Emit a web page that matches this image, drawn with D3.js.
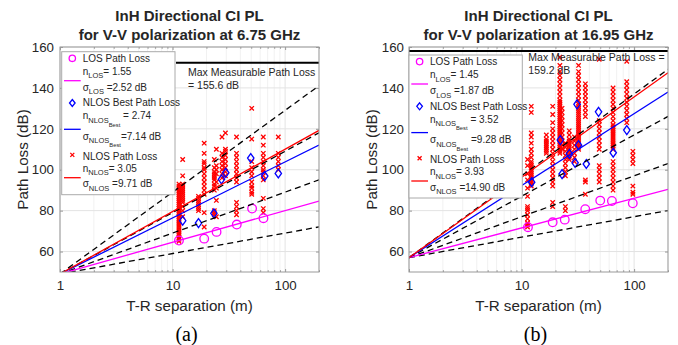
<!DOCTYPE html>
<html>
<head>
<meta charset="utf-8">
<script src="https://cdn.jsdelivr.net/npm/d3@7"></script>
<style>
  body { margin: 0; background: #fff; }
  svg { display: block; font-family: "Liberation Sans", Arial, sans-serif; }
</style>
</head>
<body>
<svg id="chart" width="678" height="345"></svg>
<script>
// axis setup shared by both panels
const xTicks = [1, 10, 100];
const yTicks = [60, 80, 100, 120, 140, 160];
const refN = [1, 2, 3, 4];          // dashed reference exponents
const xMinor = [2,3,4,5,6,7,8,9,20,30,40,50,60,70,80,90,200];

// ---- panel (a) 6.75 GHz ----
const freqA = 6.75;
const expA = [1.55, 2.74, 3.05];    // LOS, NLOS best, NLOS
const sigA = ["2.52", "7.14", "9.71"];
const maxTextA = "155.6";
const maxLineA = 152.3;             // where the line sits in the picture
const losA_d = [11.4, 19.1, 24.6, 37.2, 50.9, 64.2];
const losA_pl = [65.4, 66.3, 69.6, 73.2, 81.0, 76.3];
const bestA_d = [12.3, 17.0, 23.3, 27.2, 29.7, 49.5, 65.9, 87.0];
const bestA_pl = [75.1, 73.9, 78.7, 95.3, 98.5, 105.7, 96.9, 98.2];
const nlosA = [
  [11.4, [65, 66, 67, 68, 69, 70, 71, 72, 73, 74, 75, 76, 77, 78, 79, 80, 81, 82, 83, 84, 85, 86, 87, 88, 89, 90, 91, 92, 93]],
  [12.3, [77, 80, 82, 84, 85, 86, 87, 88, 89, 90, 91, 92, 93, 97, 105]],
  [17.0, [80, 81, 82, 83, 84, 85, 86, 87]],
  [19.1, [72, 79, 88, 90, 92, 94, 96, 98, 100, 101, 103, 104, 108, 113]],
  [23.5, [78, 79, 80, 90, 92, 93, 95, 96, 97, 98, 99, 101, 105]],
  [24.5, [77, 85, 91, 94, 98, 100, 102, 110]],
  [27.5, [96, 98, 100, 102, 104, 106, 108, 116]],
  [29.5, [97, 99, 101, 103, 105, 107, 109, 110, 118]],
  [37.0, [78, 80, 82, 84, 94, 96, 98, 100, 102, 104, 106, 108, 116]],
  [50.5, [88, 89, 91, 92, 94, 97, 99, 101, 104, 115, 130]],
  [64.0, [79, 81, 86, 95, 97, 99, 100, 102, 104, 106, 108, 112, 116]],
  [87.0, [100, 102, 104, 106, 108, 116]]
];

// ---- panel (b) 16.95 GHz ----
const freqB = 16.95;
const expB = [1.45, 3.52, 3.93];
const sigB = ["1.87", "9.28", "14.90"];
const maxTextB = "159.2";
const maxLineB = 158.0;
const losB_d = [11.4, 18.9, 24.2, 36.8, 50.0, 63.5, 97.3];
const losB_pl = [71.9, 74.3, 75.6, 80.7, 84.9, 84.7, 83.6];
const bestB_d = [12.3, 22.1, 22.9, 26.6, 29.9, 31.1, 32.1, 37.6, 48.3, 65.2, 86.1];
const bestB_pl = [93.9, 114.5, 97.9, 107.7, 103.4, 132.0, 112.0, 102.8, 128.3, 108.3, 119.4];
const nlosB = [
  [11.3, [72, 73, 74, 76, 78, 80, 81, 82, 87, 91, 95, 98, 102, 105]],
  [12.2, [92, 93, 94, 95, 96, 97, 98, 99, 100, 101, 102, 103, 104, 106, 108, 110, 113, 116, 118, 128, 131]],
  [16.6, [108, 109, 110, 111, 112, 113, 114, 115, 117]],
  [18.9, [82, 84, 92, 94, 96, 98, 100, 102, 104, 106, 108, 110, 112, 114, 116, 118, 120, 123, 127, 131]],
  [21.9, [108, 109, 110, 111, 112, 113, 114, 115, 116, 117, 118, 119, 120, 121, 122, 123, 124, 125, 126, 127, 128, 129, 130, 131, 132, 133, 134, 136, 138, 140, 142, 144, 146, 148, 151, 155]],
  [22.9, [110, 112, 114, 116, 118, 120, 122, 124, 126, 128, 130]],
  [24.5, [80, 82, 97, 99, 101, 103, 105, 107, 109, 111, 113]],
  [26.5, [105, 106, 107, 108, 109, 110, 111, 112, 113, 114, 115, 117, 119]],
  [29.5, [104, 106, 108, 110, 112, 114, 116]],
  [32.1, [110, 111, 112, 113, 114, 115, 116, 117, 118, 119, 120, 121, 122, 123, 124, 125, 126, 127, 128, 129, 130, 131, 132, 134, 136, 138, 140, 142, 144, 146, 148, 151]],
  [36.9, [88, 94, 95, 126, 128, 130, 132, 134, 136, 138, 140, 142]],
  [49.0, [94, 96, 98, 100, 102, 110, 112, 114, 116, 118, 120, 122, 124, 154]],
  [65.0, [90, 92, 94, 96, 98, 100, 102, 104, 110, 111, 112, 113, 114, 115, 116, 117, 118, 119, 120, 121, 122, 124, 126, 128, 130, 132, 134, 136, 138, 140]],
  [86.0, [123, 125, 127, 129, 131, 133, 135, 137, 139, 141, 143, 153]],
  [97.5, [88, 89, 92, 103, 105, 107, 109]]
];

const svg = d3.select("#chart");
const W = 259, H = 225;
const grey = "#999";
const txt = "#262626";

// free space path loss at 1 m
const fspl = f => 20 * Math.log10(4 * Math.PI * f * 1e9 / 3e8);

function drawPanel(cfg) {
  const g = svg.append("g").attr("transform", `translate(${cfg.left},47)`);
  const x = d3.scaleLog().domain([1, 200]).range([0, W]);
  const y = d3.scaleLinear().domain([50, 160]).range([H, 0]);
  const pl0 = fspl(cfg.freq);

  const clipId = "clip" + cfg.left;
  g.append("clipPath").attr("id", clipId)
    .append("rect").attr("width", W).attr("height", H);

  // grid
  g.append("g").selectAll("line").data(xMinor).join("line")
    .attr("x1", d => x(d)).attr("x2", d => x(d)).attr("y1", 0).attr("y2", H)
    .attr("stroke", "#f1f1f1");
  g.append("g").selectAll("line").data(xTicks).join("line")
    .attr("x1", d => x(d)).attr("x2", d => x(d)).attr("y1", 0).attr("y2", H)
    .attr("stroke", "#e3e3e3");
  g.append("g").selectAll("line").data(yTicks).join("line")
    .attr("x1", 0).attr("x2", W).attr("y1", d => y(d)).attr("y2", d => y(d))
    .attr("stroke", "#e3e3e3");

  const plot = g.append("g").attr("clip-path", `url(#${clipId})`);

  // max measurable text (underneath the markers)
  g.append("text").attr("x", cfg.maxX).attr("y", cfg.maxY)
    .attr("font-size", 10.5).attr("fill", txt).text(cfg.maxL1);
  g.append("text").attr("x", cfg.maxX).attr("y", cfg.maxY + 13.3)
    .attr("font-size", 10.5).attr("fill", txt).text(cfg.maxL2);
  plot.append("line")
    .attr("x1", cfg.maxLineX).attr("x2", W)
    .attr("y1", y(cfg.maxLine)).attr("y2", y(cfg.maxLine))
    .attr("stroke", "#000").attr("stroke-width", 2);

  // NLOS markers
  const pts = cfg.nlos.flatMap(([d, arr]) => arr.map(v => [d, v]));
  const xs = plot.append("g").attr("stroke", "#ff0000").attr("stroke-width", 1.3);
  pts.forEach(([d, v]) => {
    const cx = x(d), cy = y(v), s = 2.2;
    xs.append("path").attr("d", `M${cx - s},${cy - s}L${cx + s},${cy + s}M${cx - s},${cy + s}L${cx + s},${cy - s}`);
  });

  // best NLOS diamonds
  plot.append("g").selectAll("path").data(cfg.bestD).join("path")
    .attr("d", (d, i) => {
      const cx = x(d), cy = y(cfg.bestPL[i]);
      return `M${cx},${cy - 4.5}L${cx + 3.2},${cy}L${cx},${cy + 4.5}L${cx - 3.2},${cy}Z`;
    })
    .attr("fill", "none").attr("stroke", "#0000ff").attr("stroke-width", 1.3);

  // LOS circles
  plot.append("g").selectAll("circle").data(cfg.losD).join("circle")
    .attr("cx", d => x(d)).attr("cy", (d, i) => y(cfg.losPL[i])).attr("r", 4.3)
    .attr("fill", "none").attr("stroke", "#ff00ff").attr("stroke-width", 1.3);

  // reference and fitted CI lines
  const ends = [1, 200];
  const ciLine = n => d3.line().x(d => x(d)).y(d => y(pl0 + 10 * n * Math.log10(d)))(ends);
  refN.forEach(n => {
    plot.append("path").attr("d", ciLine(n)).attr("fill", "none")
      .attr("stroke", "#000").attr("stroke-width", 1.3).attr("stroke-dasharray", "6,4");
  });
  const cols = ["#ff00ff", "#0000ff", "#ff0000"];
  cfg.exps.forEach((n, i) => {
    plot.append("path").attr("d", ciLine(n)).attr("fill", "none")
      .attr("stroke", cols[i]).attr("stroke-width", 1.3);
  });

  // frame
  g.append("rect").attr("width", W).attr("height", H)
    .attr("fill", "none").attr("stroke", grey).attr("stroke-width", 1);

  // axes with inward ticks
  const styleAxis = sel => {
    sel.select(".domain").remove();
    sel.selectAll("line").attr("stroke", grey);
    sel.selectAll("text").attr("fill", txt).attr("font-size", 13.3)
      .attr("font-family", "Liberation Sans, Arial, sans-serif");
  };
  g.append("g").attr("transform", `translate(0,${H})`)
    .call(d3.axisBottom(x).tickValues(xTicks).tickFormat(d3.format("d")).tickSize(-3).tickPadding(9))
    .call(styleAxis);
  g.append("g").attr("transform", `translate(0,${H})`)
    .call(d3.axisBottom(x).tickValues(xMinor).tickFormat("").tickSize(-1.8)).call(styleAxis);
  g.append("g").call(d3.axisTop(x).tickValues(xTicks).tickFormat("").tickSize(-3)).call(styleAxis);
  g.append("g").call(d3.axisTop(x).tickValues(xMinor).tickFormat("").tickSize(-1.8)).call(styleAxis);
  g.append("g")
    .call(d3.axisLeft(y).tickValues(yTicks).tickSize(-3).tickPadding(cfg.yPad))
    .call(styleAxis);
  g.append("g").attr("transform", `translate(${W},0)`)
    .call(d3.axisRight(y).tickValues(yTicks).tickFormat("").tickSize(-3)).call(styleAxis);

  // legend
  const lg = g.append("g").attr("transform", `translate(${cfg.legX},${cfg.legY})`);
  lg.append("rect").attr("width", 113.3).attr("height", 143)
    .attr("fill", "#fff").attr("stroke", "#aaa").attr("stroke-width", 1);
  const tx = 21, fs = 10, sub = 7.5, sub2 = 5.8;
  const row = (yy, parts) => {
    const t = lg.append("text").attr("x", tx).attr("y", yy).attr("font-size", fs).attr("fill", txt);
    parts.forEach(p => t.append("tspan").attr("dy", p.dy || 0).attr("font-size", p.fs || fs).text(p.t));
  };
  // LOS
  lg.append("circle").attr("cx", 10.6).attr("cy", 6.6).attr("r", 3.2)
    .attr("fill", "none").attr("stroke", "#ff00ff").attr("stroke-width", 1.3);
  row(10, [{ t: "LOS Path Loss" }]);
  row(23.3, [{ t: "n" }, { t: "LOS", fs: sub, dy: 3.5 }, { t: "= " + cfg.exps[0].toFixed(2), dy: -3.5 }]);
  lg.append("line").attr("x1", 2.3).attr("x2", 19).attr("y1", 29).attr("y2", 29)
    .attr("stroke", "#ff00ff").attr("stroke-width", 1.3);
  row(39.3, [{ t: "σ" }, { t: "LOS", fs: sub, dy: 3.5 }, { t: " =" + cfg.sig[0] + " dB", dy: -3.5 }]);
  // NLOS best
  lg.append("path").attr("d", "M10.6,47.8L13.4,51.3L10.6,54.8L7.8,51.3Z")
    .attr("fill", "none").attr("stroke", "#0000ff").attr("stroke-width", 1.3);
  row(54.8, [{ t: "NLOS Best Path Loss" }]);
  row(67.8, [{ t: "n" }, { t: "NLOS", fs: sub, dy: 3.5 }, { t: "Best", fs: sub2, dy: 4 },
             { t: "  = " + cfg.exps[1].toFixed(2), dy: -7.5 }]);
  lg.append("line").attr("x1", 2.3).attr("x2", 19).attr("y1", 77.6).attr("y2", 77.6)
    .attr("stroke", "#0000ff").attr("stroke-width", 1.3);
  row(88.3, [{ t: "σ" }, { t: "NLOS", fs: sub, dy: 3.5 }, { t: "Best", fs: sub2, dy: 4 },
             { t: cfg.bestSigGap + "=" + cfg.sig[1] + " dB", dy: -7.5 }]);
  // NLOS
  lg.append("path").attr("d", "M8.6,101.2L12.6,105.2M8.6,105.2L12.6,101.2")
    .attr("stroke", "#ff0000").attr("stroke-width", 1.3);
  row(108.3, [{ t: "NLOS Path Loss" }]);
  row(120.3, [{ t: "n" }, { t: "NLOS", fs: sub, dy: 3.5 }, { t: "= " + cfg.exps[2].toFixed(2), dy: -3.5 }]);
  lg.append("line").attr("x1", 2.3).attr("x2", 19).attr("y1", 126).attr("y2", 126)
    .attr("stroke", "#ff0000").attr("stroke-width", 1.3);
  row(135.8, [{ t: "σ" }, { t: "NLOS", fs: sub, dy: 3.5 }, { t: " =" + cfg.sig[2] + " dB", dy: -3.5 }]);

  // titles and labels
  const cx = W / 2;
  g.append("text").attr("x", cx).attr("y", -26).attr("text-anchor", "middle")
    .attr("font-size", 15).attr("font-weight", "bold").attr("fill", txt)
    .text("InH Directional CI PL");
  g.append("text").attr("x", cx).attr("y", -7.5).attr("text-anchor", "middle")
    .attr("font-size", 15).attr("font-weight", "bold").attr("fill", txt)
    .text(`for V-V polarization at ${cfg.freq} GHz`);
  g.append("text").attr("x", cx).attr("y", H + 38.5).attr("text-anchor", "middle")
    .attr("font-size", 15.2).attr("fill", txt).text("T-R separation (m)");
  g.append("text").attr("transform", `translate(${cfg.yLabX},${H / 2}) rotate(-90)`)
    .attr("text-anchor", "middle").attr("font-size", 15.2).attr("fill", txt)
    .text("Path Loss (dB)");
  g.append("text").attr("x", cx - 3).attr("y", H + 69)
    .attr("text-anchor", "middle").attr("font-size", 20)
    .attr("font-family", "Liberation Serif, Times New Roman, serif").attr("fill", "#000")
    .text(cfg.tag);
}

drawPanel({
  tag: "(a)", left: 60, freq: freqA, exps: expA, sig: sigA,
  losD: losA_d, losPL: losA_pl, bestD: bestA_d, bestPL: bestA_pl, nlos: nlosA,
  maxLine: maxLineA, maxLineX: 116, maxX: 128, maxY: 29,
  maxL1: "Max Measurable Path Loss", maxL2: "= " + maxTextA + " dB",
  legX: 1.7, legY: 4.7, yPad: 6, yLabX: -32.5, bestSigGap: ""
});
drawPanel({
  tag: "(b)", left: 409, freq: freqB, exps: expB, sig: sigB,
  losD: losB_d, losPL: losB_pl, bestD: bestB_d, bestPL: bestB_pl, nlos: nlosB,
  maxLine: maxLineB, maxLineX: 0, maxX: 119.3, maxY: 14,
  maxL1: "Max Measurable Path Loss =", maxL2: maxTextB + " dB",
  legX: 0, legY: 8, yPad: 5, yLabX: -32.5, bestSigGap: "    "
});
</script>
</body>
</html>
